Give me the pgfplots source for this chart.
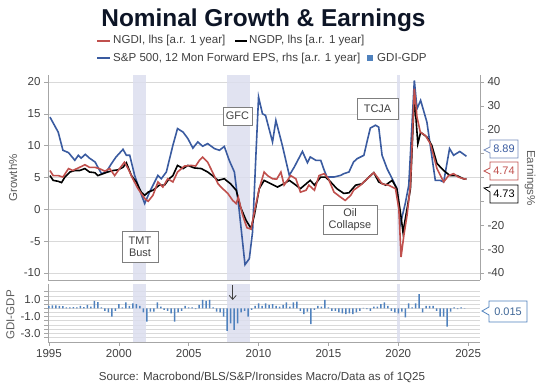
\documentclass[border=0pt]{standalone}
\usepackage{pgfplots}
\pgfplotsset{compat=1.18}
\usepackage{fontspec}
\setmainfont{Liberation Sans}
\usetikzlibrary{arrows.meta}
\definecolor{ngdi}{HTML}{C0504D}
\definecolor{eps}{HTML}{3A5BA0}
\definecolor{barc}{HTML}{4F81BD}
\definecolor{shade}{HTML}{DCDEEE}
\definecolor{gridc}{HTML}{D9D9D9}
\definecolor{axisc}{HTML}{A6A6A6}
\definecolor{lab}{HTML}{404040}
\definecolor{boxc}{HTML}{7F7F7F}
\definecolor{titlec}{HTML}{0D1526}
\newcommand{\lf}{\fontsize{11.6}{13}\selectfont}
\pgfplotsset{
  base/.style={scale only axis, width=432bp, xmin=1994.93, xmax=2025.85,
    tick label style={font=\lf, text=lab},
    /pgf/number format/assume math mode=true,
    tick align=outside, major tick length=4bp,
    tick style={axisc, line width=0.6bp},
    axis line style={axisc, line width=0.8bp},
    grid style={gridc, line width=0.6bp},
  }
}
\begin{document}
\begin{tikzpicture}
\path[use as bounding box] (0,0) rectangle (536bp,384bp);

% ---------- top panel, right scale (EPS) ----------
\begin{axis}[base, at={(48bp,104bp)}, anchor=south west, height=205bp,
  ymin=-42.93, ymax=42.93,
  axis x line=none, axis y line*=right,
  ytick={-40,-30,-20,-10,0,10,20,30,40},
  yticklabels={-40,-30,-20,,,,20,30,40},
  extra y ticks={-40,-26.6667,-13.3333,0,13.3333,26.6667,40},
  extra y tick labels={},
  extra y tick style={grid=major, major tick length=0pt},
]
\addplot[fill=shade, draw=none, fill opacity=0.85, forget plot] coordinates {(2001.0,-42.93) (2001.0,42.93) (2001.92,42.93) (2001.92,-42.93)};
\addplot[fill=shade, draw=none, fill opacity=0.85, forget plot] coordinates {(2007.72,-42.93) (2007.72,42.93) (2009.38,42.93) (2009.38,-42.93)};
\addplot[fill=shade, draw=none, fill opacity=0.85, forget plot] coordinates {(2019.9,-42.93) (2019.9,42.93) (2020.12,42.93) (2020.12,-42.93)};
\addplot[eps, line width=1.6bp] coordinates {
(1995.07,25.3) (1995.66,19.0) (1996.0,11.4) (1996.4,10.4) (1996.85,7.2) (1997.1,9.3) (1997.3,8.1) (1997.6,9.7) (1997.9,8.1) (1998.3,6.5) (1998.5,4.3) (1998.76,1.6) (1999.1,2.3) (1999.47,5.8) (1999.8,8.6) (2000.3,11.8) (2000.54,9.3) (2000.78,9.3) (2001.13,0.9) (2001.5,-5.4) (2001.85,-10.9) (2002.2,-6.1) (2002.8,0.9) (2003.04,-0.5) (2003.4,2.3) (2003.87,13.5) (2004.2,20.5) (2004.6,19.0) (2004.94,16.3) (2005.3,12.3) (2005.65,14.9) (2006.0,13.1) (2006.36,14.2) (2006.84,12.1) (2007.2,11.4) (2007.55,13.0) (2007.9,7.2) (2008.27,2.3) (2008.6,-13.0) (2009.03,-36.5) (2009.34,-34.0) (2009.57,-22.8) (2009.8,7.9) (2010.0,33.7) (2010.28,26.7) (2010.5,26.0) (2011.0,14.9) (2011.24,23.9) (2011.7,13.5) (2012.2,0.9) (2012.55,4.3) (2013.14,10.9) (2013.5,6.2) (2013.7,8.6) (2014.1,7.2) (2014.45,7.2) (2014.7,3.0) (2014.9,0.2) (2015.4,0.2) (2015.88,0.9) (2016.1,1.6) (2016.47,2.3) (2016.8,6.5) (2017.06,7.9) (2017.54,9.3) (2017.78,15.4) (2018.0,20.7) (2018.37,21.9) (2018.6,21.1) (2018.84,9.3) (2019.2,3.7) (2019.68,-1.9) (2019.9,-4.7) (2020.16,-19.3) (2020.5,-10.9) (2020.75,-3.3) (2021.15,40.7) (2021.34,28.8) (2021.6,32.3) (2022.05,23.2) (2022.65,-1.2) (2023.0,-1.2) (2023.25,-1.9) (2023.67,12.1) (2023.96,9.3) (2024.4,10.9) (2024.88,8.89)
};
\end{axis}

% ---------- top panel, left scale (NGDP, NGDI) ----------
\begin{axis}[base, at={(48bp,104bp)}, anchor=south west, height=205bp,
  ymin=-11.1, ymax=21.1,
  axis x line*=bottom, axis y line*=left, xtick=\empty,
  ytick={-10,-5,0,5,10,15,20},
]
\addplot[black, line width=1.6bp] coordinates {
(1995.07,5.3) (1995.3,4.55) (1995.66,4.4) (1995.9,4.2) (1996.14,5.07) (1996.5,5.86) (1996.85,6.1) (1997.2,6.1) (1997.57,6.4) (1997.9,5.86) (1998.28,5.76) (1998.5,5.3) (1998.87,5.6) (1999.2,5.86) (1999.6,6.1) (1999.94,6.2) (2000.3,6.6) (2000.54,7.3) (2000.9,5.3) (2001.25,4.3) (2001.6,2.7) (2001.85,2.2) (2002.1,2.7) (2002.44,3.0) (2002.9,3.8) (2003.27,3.8) (2003.6,4.8) (2003.87,5.3) (2004.2,6.9) (2004.6,6.4) (2004.94,6.9) (2005.4,6.5) (2005.9,6.4) (2006.36,5.86) (2006.7,5.3) (2007.1,4.55) (2007.55,4.8) (2008.0,4.0) (2008.4,3.0) (2008.7,0.4) (2009.1,-1.7) (2009.46,-3.0) (2009.7,-0.9) (2010.05,3.25) (2010.4,4.55) (2010.9,4.0) (2011.35,3.5) (2011.8,4.0) (2012.2,4.55) (2012.55,4.0) (2013.0,3.25) (2013.4,4.0) (2013.7,4.55) (2014.0,3.8) (2014.45,5.07) (2014.8,5.07) (2015.16,4.3) (2015.6,3.25) (2016.1,2.5) (2016.47,2.6) (2016.95,3.8) (2017.4,4.0) (2017.9,5.07) (2018.25,5.76) (2018.6,4.3) (2019.1,3.8) (2019.56,4.55) (2019.9,3.25) (2020.2,-1.2) (2020.34,-3.6) (2020.63,0.1) (2020.87,3.25) (2021.15,17.9) (2021.4,10.3) (2021.6,12.1) (2022.05,11.35) (2022.4,10.05) (2022.77,7.2) (2023.25,6.1) (2023.7,5.3) (2024.2,5.3) (2024.67,4.8) (2024.88,4.73)
};
\addplot[ngdi, line width=1.6bp] coordinates {
(1995.07,6.1) (1995.3,5.3) (1995.66,5.3) (1996.0,5.07) (1996.4,6.4) (1996.7,6.1) (1997.1,6.5) (1997.57,7.0) (1997.9,6.6) (1998.28,6.6) (1998.6,6.4) (1999.0,6.0) (1999.35,6.4) (1999.7,5.3) (2000.06,6.4) (2000.4,7.4) (2000.66,6.4) (2001.0,4.8) (2001.37,3.25) (2001.85,1.7) (2002.1,1.26) (2002.44,2.2) (2002.8,4.3) (2003.15,3.5) (2003.5,4.8) (2003.87,4.3) (2004.2,5.86) (2004.7,6.8) (2005.18,6.9) (2005.5,6.8) (2005.77,7.7) (2006.0,8.2) (2006.36,7.4) (2006.7,5.86) (2007.1,4.0) (2007.43,3.25) (2007.8,2.5) (2008.15,1.4) (2008.4,0.9) (2008.55,1.9) (2008.86,-0.9) (2009.17,-2.9) (2009.46,-3.1) (2009.7,-0.4) (2010.05,3.25) (2010.4,5.86) (2010.64,5.3) (2011.0,4.8) (2011.3,4.74) (2011.6,5.86) (2011.83,3.8) (2012.3,5.3) (2012.67,4.8) (2013.0,2.7) (2013.4,3.0) (2013.6,3.8) (2014.0,3.0) (2014.33,5.3) (2014.7,5.6) (2015.0,4.8) (2015.4,2.7) (2015.88,1.9) (2016.2,1.4) (2016.6,2.2) (2016.8,3.0) (2017.3,3.8) (2017.78,4.8) (2018.25,5.76) (2018.5,5.07) (2018.84,4.0) (2019.3,3.8) (2019.8,3.25) (2020.04,0.1) (2020.2,-7.5) (2020.4,-4.1) (2020.63,-0.9) (2020.87,3.8) (2021.15,18.95) (2021.34,14.5) (2021.58,12.1) (2021.94,11.6) (2022.3,10.3) (2022.77,6.4) (2023.25,4.3) (2023.6,5.3) (2023.96,5.6) (2024.3,5.07) (2024.67,4.8) (2024.88,4.74)
};
\end{axis}

% ---------- bottom panel (GDI-GDP) ----------
\begin{axis}[base, at={(48bp,42bp)}, anchor=south west, height=58bp,
  ymin=-4.05, ymax=2.92,
  axis x line*=bottom, axis y line*=left,
  xtick={1995,2000,2005,2010,2015,2020,2025},
  x tick label style={/pgf/number format/1000 sep={}},
  ytick={-3.5,-3,-2.5,-2,-1.5,-1,-0.5,0,0.5,1,1.5,2},
  yticklabels={,-3.0,,,,-1.0,,,,1.0,,},
  ymajorgrids, major tick length=4bp,
]
\addplot[fill=shade, draw=none, fill opacity=0.85, forget plot] coordinates {(2001.0,-4.05) (2001.0,2.92) (2001.92,2.92) (2001.92,-4.05)};
\addplot[fill=shade, draw=none, fill opacity=0.85, forget plot] coordinates {(2007.72,-4.05) (2007.72,2.92) (2009.38,2.92) (2009.38,-4.05)};
\addplot[fill=shade, draw=none, fill opacity=0.85, forget plot] coordinates {(2019.9,-4.05) (2019.9,2.92) (2020.12,2.92) (2020.12,-4.05)};
\addplot[ybar, bar width=1.5bp, bar shift=0pt, fill=barc, draw=none] coordinates {
(1995.00,0.3) (1995.25,0.35) (1995.50,0.35) (1995.75,0.3)
(1996.00,0.25) (1996.25,0.1) (1996.50,0.1) (1996.75,0.15)
(1997.00,0.1) (1997.25,0.3) (1997.50,0.15) (1997.75,0.4)
(1998.00,0.2) (1998.25,0.9) (1998.50,0.75) (1998.75,0.1)
(1999.00,-0.3) (1999.25,-0.5) (1999.50,-1.0) (1999.75,-0.3)
(2000.00,0.5) (2000.25,0.1) (2000.50,0.7) (2000.75,0.3)
(2001.00,0.6) (2001.25,0.5) (2001.50,0.3) (2001.75,-0.5)
(2002.00,-1.6) (2002.25,-0.4) (2002.50,-0.4) (2002.75,0.7)
(2003.00,0.2) (2003.25,-0.2) (2003.50,-0.3) (2003.75,-0.6)
(2004.00,-1.6) (2004.25,-0.5) (2004.50,-0.3) (2004.75,0.3)
(2005.00,0.1) (2005.25,0.1) (2005.50,-0.1) (2005.75,0.4)
(2006.00,1.0) (2006.25,0.9) (2006.50,1.0) (2006.75,0.1)
(2007.00,-0.4) (2007.25,-0.5) (2007.50,-1.0) (2007.75,-2.7)
(2008.00,-1.8) (2008.25,-2.6) (2008.50,-1.8) (2008.75,-0.5)
(2009.00,-0.3) (2009.25,-1.0) (2009.50,-0.2) (2009.75,0.3)
(2010.00,0.6) (2010.25,0.3) (2010.50,0.6) (2010.75,0.4)
(2011.00,0.5) (2011.25,0.3) (2011.50,0.2) (2011.75,0.4)
(2012.00,0.7) (2012.25,0.2) (2012.50,0.7) (2012.75,0.8)
(2013.00,-0.3) (2013.25,-0.7) (2013.50,-0.4) (2013.75,-1.9)
(2014.00,-0.2) (2014.25,0.3) (2014.50,0.2) (2014.75,1.0)
(2015.00,0.1) (2015.25,-0.3) (2015.50,-0.3) (2015.75,-0.5)
(2016.00,-0.6) (2016.25,-0.7) (2016.50,-0.6) (2016.75,-0.7)
(2017.00,-0.5) (2017.25,-0.3) (2017.50,0.05) (2017.75,-0.1)
(2018.00,-0.3) (2018.25,0.2) (2018.50,0.2) (2018.75,0.5)
(2019.00,0.7) (2019.25,0.3) (2019.50,-0.3) (2019.75,-0.5)
(2020.00,-0.6) (2020.25,-0.4) (2020.50,-1.1) (2020.75,0.6)
(2021.00,0.1) (2021.25,0.6) (2021.50,1.7) (2021.75,-0.5)
(2022.00,0.3) (2022.25,0.3) (2022.50,0.3) (2022.75,-0.3)
(2023.00,-1.0) (2023.25,-1.0) (2023.50,-2.2) (2023.75,-0.4)
(2024.00,0.1) (2024.25,-0.1) (2024.50,0.1) (2024.75,0.015)
};
\end{axis}

% ---------- title and legend ----------
\node[anchor=base, inner sep=0, font=\fontsize{24.5}{28}\selectfont\bfseries, text=titlec] at (263.5bp,357.3bp) {Nominal Growth \& Earnings};
\draw[ngdi, line width=2bp] (97bp,343bp) -- (110bp,343bp);
\node[anchor=base west, inner sep=0, font=\lf, text=lab] at (113bp,340bp) {NGDI, lhs [a.r. 1 year]};
\draw[black, line width=2bp] (235bp,343bp) -- (247bp,343bp);
\node[anchor=base west, inner sep=0, font=\lf, text=lab] at (249bp,340bp) {NGDP, lhs [a.r. 1 year]};
\draw[eps, line width=2bp] (97bp,326bp) -- (110bp,326bp);
\node[anchor=base west, inner sep=0, font=\lf, text=lab] at (113bp,322.5bp) {S\&P 500, 12 Mon Forward EPS, rhs [a.r. 1 year]};
\fill[barc] (367bp,323bp) rectangle (373bp,329bp);
\node[anchor=base west, inner sep=0, font=\lf, text=lab] at (377bp,322.5bp) {GDI-GDP};

% ---------- axis titles ----------
\node[rotate=90, font=\lf, text=lab!85!white, inner sep=0] at (13bp,206bp) {Growth\%};
\node[rotate=-90, font=\lf, text=lab!85!white, inner sep=0] at (530bp,206bp) {Earnings\%};
\node[rotate=90, font=\lf, text=lab!85!white, inner sep=0] at (10.5bp,69bp) {GDI-GDP};

% ---------- event boxes ----------
\node[draw=boxc, fill=white, line width=0.7bp, minimum width=29bp, minimum height=18bp, inner sep=0, font=\fontsize{11}{12}\selectfont, text=lab] at (237.5bp,268bp) {GFC};
\node[draw=boxc, fill=white, line width=0.7bp, minimum width=36bp, minimum height=31bp, inner sep=0, align=center, font=\fontsize{11}{12}\selectfont, text=lab] at (140bp,137.5bp) {TMT\\Bust};
\node[draw=boxc, fill=white, line width=0.7bp, minimum width=41bp, minimum height=21bp, inner sep=0, font=\fontsize{11}{12}\selectfont, text=lab] at (377.5bp,275.5bp) {TCJA};
\node[draw=boxc, fill=white, line width=0.7bp, minimum width=54bp, minimum height=29bp, inner sep=0, align=center, font=\fontsize{11}{12}\selectfont, text=lab] at (350bp,164.5bp) {Oil\\Collapse};

% ---------- value callouts ----------
\draw[eps!70!white, fill=white, line width=0.8bp] (490bp,226bp) -- (490bp,231bp) -- (484bp,234bp) -- (490bp,237bp) -- (490bp,244bp) -- (518bp,244bp) -- (518bp,226bp) -- cycle;
\node[text=eps, font=\fontsize{11}{12}\selectfont] at (504bp,235bp) {8.89};
\draw[ngdi, fill=white, line width=0.8bp] (490bp,204bp) -- (490bp,210bp) -- (484bp,213bp) -- (490bp,216bp) -- (490bp,222bp) -- (518bp,222bp) -- (518bp,204bp) -- cycle;
\node[text=ngdi, font=\fontsize{11}{12}\selectfont] at (504bp,213bp) {4.74};
\draw[black, fill=white, line width=0.8bp] (490bp,181bp) -- (490bp,192bp) -- (484bp,196bp) -- (490bp,197bp) -- (490bp,199bp) -- (518bp,199bp) -- (518bp,181bp) -- cycle;
\node[text=black, font=\fontsize{11}{12}\selectfont] at (504bp,190bp) {4.73};
\draw[barc, fill=white, line width=0.8bp] (489bp,62bp) -- (489bp,69bp) -- (482bp,73bp) -- (489bp,77bp) -- (489bp,83bp) -- (527bp,83bp) -- (527bp,62bp) -- cycle;
\node[text=barc!80!black, font=\fontsize{11}{12}\selectfont] at (508bp,72.5bp) {0.015};

% ---------- GFC arrow ----------
\draw[lab, line width=0.8bp, -{Straight Barb[length=4bp, width=7bp]}] (232.7bp,99bp) -- (232.7bp,84bp);

% ---------- source ----------
\node[anchor=base, inner sep=0, font=\lf, text=lab] at (262bp,4bp) {Source: Macrobond/BLS/S\&P/Ironsides Macro/Data as of 1Q25};
\end{tikzpicture}
\end{document}
